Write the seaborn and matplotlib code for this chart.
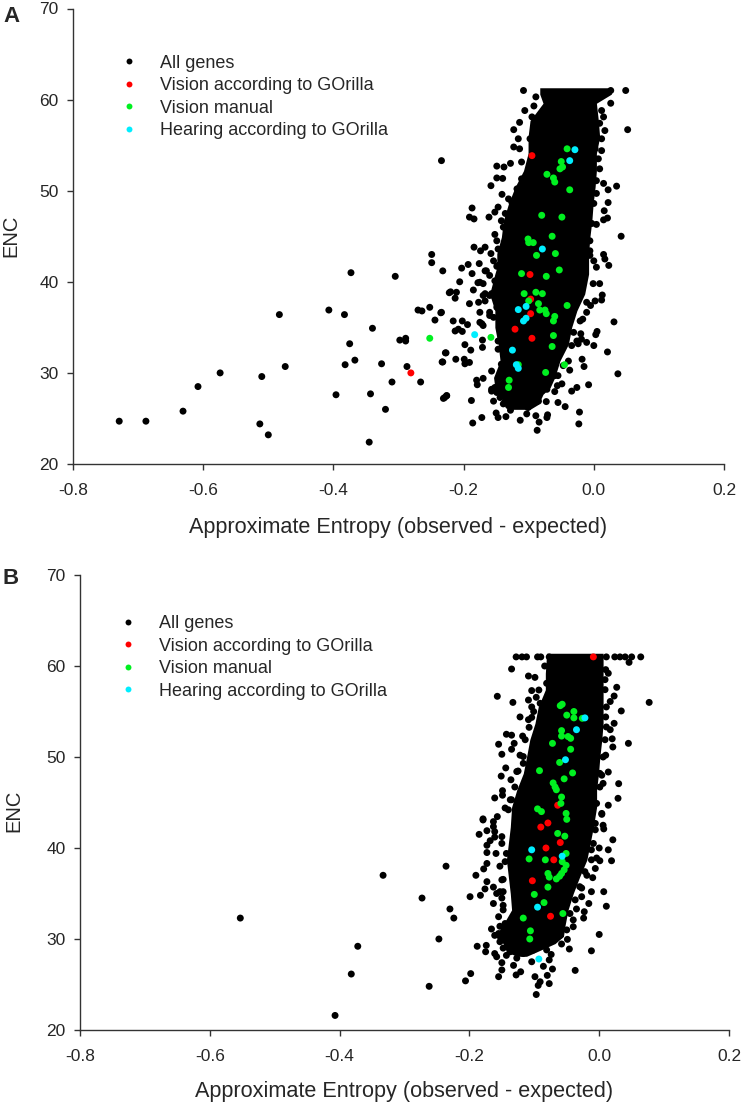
import pandas as pd
import matplotlib
matplotlib.use('Agg')
import matplotlib.pyplot as plt
import seaborn as sns

# Values, as (approximate entropy, ENC)
a_all_genes = [
    (-0.729, 24.7), (-0.688, 24.7), (-0.631, 25.8), (-0.608, 28.5), (-0.574, 30.0), (-0.510, 29.6),
    (-0.474, 30.7), (-0.483, 36.4), (-0.513, 24.4), (-0.500, 23.2), (-0.407, 36.9), (-0.383, 36.4),
    (-0.340, 34.9), (-0.375, 33.2), (-0.367, 31.4), (-0.382, 30.9), (-0.326, 31.0), (-0.396, 27.6),
    (-0.343, 27.7), (-0.310, 29.0), (-0.320, 26.0), (-0.345, 22.4), (-0.298, 33.6), (-0.289, 33.8),
    (-0.289, 33.5), (-0.287, 30.7), (-0.266, 29.0), (-0.270, 36.9), (-0.264, 36.8), (-0.252, 37.2),
    (-0.235, 36.6), (-0.244, 35.8), (-0.227, 32.2), (-0.233, 31.2), (-0.231, 27.2), (-0.226, 27.5),
    (-0.222, 38.8), (-0.234, 53.3), (-0.373, 41.0), (-0.305, 40.6), (-0.249, 43.0), (-0.249, 42.1),
    (-0.108, 61.0), (-0.089, 60.3), (-0.092, 59.3), (-0.106, 58.8), (-0.114, 57.5), (-0.123, 56.7),
    (-0.116, 55.7), (-0.123, 54.8), (-0.114, 54.6), (-0.111, 53.15), (-0.149, 52.7), (-0.138, 52.6),
    (-0.128, 53.0), (-0.149, 51.4), (-0.140, 51.35), (-0.158, 50.55), (-0.141, 49.6), (-0.187, 48.1),
    (-0.191, 47.1), (-0.184, 46.9), (-0.161, 47.1), (-0.152, 47.65), (-0.152, 45.2), (-0.184, 43.8),
    (-0.174, 43.4), (-0.167, 43.8), (-0.158, 43.1), (-0.176, 42.0), (-0.193, 41.9), (-0.203, 41.5),
    (0.026, 61.0), (0.049, 61.0), (0.026, 59.6), (0.052, 56.7), (0.015, 58.1), (0.017, 56.6),
    (0.012, 54.4), (0.009, 52.4), (0.035, 50.5), (0.022, 50.1), (0.015, 50.8), (0.022, 48.7),
    (0.016, 47.8), (0.021, 47.0), (0.015, 46.8), (0.004, 46.3), (0.042, 45.0), (0.015, 43.0),
    (0.017, 42.5), (0.023, 41.8), (0.000, 42.3), (-0.006, 43.4),
    (-0.232, 41.2), (-0.187, 40.9), (-0.206, 40.0), (-0.220, 38.9), (-0.211, 38.85), (-0.213, 38.2),
    (-0.185, 39.1), (-0.191, 37.6), (-0.234, 36.65), (-0.216, 35.7), (-0.202, 35.7), (-0.194, 35.3),
    (-0.213, 34.6), (-0.208, 34.8), (-0.202, 34.55), (-0.228, 32.2), (-0.232, 31.2), (-0.212, 31.5),
    (-0.199, 31.5), (-0.198, 31.0), (-0.191, 31.15), (-0.198, 33.1), (-0.189, 32.5), (-0.171, 32.8),
    (-0.171, 33.6), (-0.178, 39.9), (-0.180, 29.2), (-0.179, 28.7), (-0.170, 29.4), (-0.157, 30.2),
    (-0.229, 27.3), (-0.226, 27.5), (-0.188, 26.97), (-0.154, 26.9), (-0.150, 25.6), (-0.147, 25.1),
    (-0.172, 25.1), (-0.186, 24.5), (-0.135, 25.2), (-0.113, 24.8), (-0.087, 23.7), (-0.084, 24.6),
    (-0.071, 25.4), (-0.072, 25.1), (-0.089, 25.3), (-0.128, 25.9), (-0.157, 28.0), (-0.142, 27.7),
    (-0.175, 36.65), (-0.172, 35.4), (-0.160, 36.3), (-0.170, 38.5), (-0.157, 38.7), (-0.165, 41.2),
    (-0.149, 41.7), (-0.160, 40.7), (-0.177, 37.75), (-0.167, 37.9), (-0.149, 37.2), (-0.170, 39.8),
    (-0.147, 32.6), (-0.142, 30.96), (-0.152, 28.4), (-0.139, 26.6), (-0.116, 26.6), (-0.101, 26.2),
    (-0.085, 26.9), (-0.103, 25.5),
    (0.009, 39.8), (0.013, 38.55), (0.012, 38.0), (0.002, 37.9), (-0.005, 37.4), (-0.011, 36.65),
    (-0.017, 35.9), (0.031, 35.6), (0.005, 34.55), (0.003, 34.2), (-0.020, 34.3), (-0.011, 33.35),
    (0.000, 33.0), (-0.024, 33.2), (0.021, 32.3), (-0.018, 31.5), (-0.015, 30.7), (0.037, 29.9),
    (-0.037, 30.3), (-0.008, 28.7), (-0.026, 28.4), (-0.034, 28.0), (-0.049, 28.8), (-0.056, 28.6),
    (-0.060, 27.95), (-0.055, 26.75), (-0.044, 26.3), (-0.073, 26.85), (-0.022, 25.7), (-0.023, 24.4),
    (-0.080, 28.0),
]
# Black dots hugging the solid middle of panel A
a_fringe = [
    (-0.167, 41.2), (-0.152, 40.1), (-0.175, 39.95), (-0.167, 38.7), (-0.160, 38.5), (-0.152, 38.3),
    (-0.160, 36.65), (-0.154, 36.1), (-0.175, 35.55), (-0.170, 35.2), (-0.147, 33.5), (-0.157, 28.2),
    (-0.149, 27.85), (-0.144, 27.3), (-0.136, 26.9), (-0.131, 26.4), (-0.113, 26.75), (-0.098, 26.6),
    (-0.072, 28.2), (-0.060, 29.7), (-0.055, 29.7), (-0.047, 30.8), (-0.039, 31.3), (-0.034, 33.0),
    (-0.026, 33.5), (-0.019, 33.7), (-0.031, 34.45), (-0.021, 35.7), (-0.011, 37.75), (-0.001, 39.8),
    (0.004, 41.6), (-0.095, 58.1), (-0.090, 57.4), (-0.085, 56.6), (-0.098, 55.7), (-0.111, 51.3),
    (-0.118, 50.2), (-0.131, 49.1), (-0.126, 48.75), (-0.147, 48.2), (-0.136, 47.5), (-0.142, 46.7),
    (-0.139, 46.0), (-0.149, 44.5), (-0.147, 43.6), (-0.154, 42.3), (-0.147, 41.8), (0.009, 60.3),
    (0.012, 58.8), (0.009, 57.4), (0.012, 55.7), (0.002, 54.6), (0.007, 53.5), (0.004, 51.1),
    (0.004, 49.7), (0.000, 48.6), (-0.003, 46.4), (-0.006, 44.5), (-0.006, 42.9),
]
a_vision_gorilla = [
    (-0.095, 53.85), (-0.098, 40.8), (-0.097, 38.1), (-0.097, 36.5), (-0.121, 34.8), (-0.095, 33.8),
    (-0.281, 30.0),
]
a_vision_manual = [
    (-0.041, 54.6), (-0.050, 53.2), (-0.048, 52.6), (-0.052, 52.4), (-0.072, 51.8), (-0.062, 51.4),
    (-0.060, 50.95), (-0.037, 50.1), (-0.080, 47.3), (-0.049, 47.1), (-0.064, 45.0), (-0.101, 44.7),
    (-0.100, 44.3), (-0.093, 44.3), (-0.088, 42.9), (-0.059, 43.1), (-0.053, 41.3), (-0.111, 40.9),
    (-0.073, 40.6), (-0.107, 38.7), (-0.089, 38.85), (-0.079, 38.7), (-0.100, 37.9), (-0.085, 37.6),
    (-0.041, 37.4), (-0.083, 36.9), (-0.075, 36.9), (-0.073, 36.5), (-0.060, 36.2), (-0.062, 35.7),
    (-0.062, 34.1), (-0.064, 32.9), (-0.158, 33.9), (-0.045, 30.9), (-0.074, 30.05), (-0.130, 29.2),
    (-0.131, 28.4), (-0.116, 30.9), (-0.252, 33.8),
]
a_hearing_gorilla = [
    (-0.029, 54.5), (-0.037, 53.3), (-0.079, 43.6), (-0.183, 34.2), (-0.116, 36.95), (-0.104, 37.3),
    (-0.108, 35.7), (-0.104, 36.0), (-0.125, 32.5), (-0.119, 30.9), (-0.116, 30.5),
]

b_all_genes = [
    (-0.553, 32.3), (-0.372, 29.2), (-0.382, 26.15), (-0.333, 37.0), (-0.262, 24.8), (-0.407, 21.6),
    (-0.273, 34.5), (-0.236, 38.0), (-0.230, 33.3), (-0.224, 32.3), (-0.247, 30.0),
    (-0.128, 61.0), (-0.119, 61.0), (-0.112, 61.0), (-0.095, 61.0), (-0.090, 61.0), (-0.077, 61.0),
    (0.011, 61.0), (0.024, 61.0), (0.032, 61.0), (0.040, 61.0), (0.050, 61.0), (0.064, 61.0),
    (0.046, 60.4), (-0.135, 59.67), (-0.109, 58.9), (-0.099, 58.75), (-0.104, 57.3), (-0.093, 57.36),
    (-0.157, 56.67), (-0.133, 56.0), (-0.109, 56.26), (-0.097, 56.56), (-0.104, 55.5), (-0.122, 54.4),
    (-0.104, 54.35), (-0.108, 53.26), (-0.118, 52.3), (-0.143, 52.5), (-0.135, 52.4), (-0.155, 51.4),
    (-0.131, 51.5), (-0.135, 50.85), (-0.150, 50.3), (-0.117, 50.05), (-0.144, 48.8), (-0.125, 48.46),
    (-0.151, 47.9), (-0.136, 47.5), (-0.149, 46.3), (-0.149, 45.8), (-0.161, 45.5), (-0.135, 45.3),
    (-0.145, 44.4), (-0.157, 43.45), (-0.179, 43.2),
    (0.010, 59.6), (0.014, 59.2), (0.009, 58.5), (0.027, 57.66), (0.023, 56.7), (0.017, 56.1),
    (0.077, 56.0), (0.034, 55.06), (0.010, 54.4), (0.023, 53.7), (0.017, 53.0), (0.020, 52.0),
    (0.045, 51.5), (0.021, 51.1), (0.010, 50.2), (0.014, 48.35), (0.004, 48.0), (0.030, 47.07),
    (0.029, 45.46), (0.014, 44.7), (0.004, 43.8), (0.006, 47.1),
    (-0.179, 43.08), (-0.163, 42.9), (-0.163, 42.35), (-0.161, 41.8), (-0.185, 41.5), (-0.173, 41.9),
    (-0.150, 41.25), (-0.161, 41.2), (-0.168, 40.8), (-0.173, 40.3), (-0.173, 39.5), (-0.159, 39.4),
    (-0.143, 39.4), (-0.173, 38.3), (-0.178, 37.7), (-0.153, 38.0), (-0.190, 37.0), (-0.173, 36.3),
    (-0.148, 36.55), (-0.199, 34.65), (-0.183, 34.8), (-0.176, 35.5), (-0.163, 35.7), (-0.153, 35.2),
    (-0.163, 33.9), (-0.148, 33.7), (-0.148, 33.2), (-0.155, 32.45), (-0.166, 31.1), (-0.155, 30.6),
    (-0.188, 29.2), (-0.174, 29.3), (-0.175, 28.6), (-0.161, 28.4), (-0.158, 28.05), (-0.143, 28.2),
    (-0.150, 27.4), (-0.150, 26.6), (-0.155, 25.86), (-0.132, 27.1), (-0.128, 26.05), (-0.121, 26.4),
    (-0.198, 26.2), (-0.206, 25.4), (-0.137, 29.15), (-0.104, 27.5), (-0.099, 25.86), (-0.091, 25.3),
    (-0.094, 24.9), (-0.097, 23.9), (-0.077, 25.1), (-0.080, 26.0), (-0.072, 26.7), (-0.086, 27.0),
    (-0.077, 27.7), (-0.074, 28.3), (-0.091, 29.2), (-0.080, 29.6),
    (-0.037, 26.55), (-0.012, 28.7), (-0.046, 28.9), (-0.058, 29.45), (-0.049, 29.96), (-0.040, 31.35),
    (0.000, 30.5), (-0.024, 32.3), (-0.023, 33.0), (-0.035, 33.3), (0.011, 33.6), (-0.016, 33.9),
    (0.007, 35.2), (-0.012, 35.2), (-0.027, 34.65), (-0.027, 35.6), (-0.010, 36.74), (-0.006, 37.75),
    (-0.022, 37.4), (0.001, 38.6), (0.019, 38.6), (-0.004, 38.9), (0.014, 39.8), (0.000, 40.0),
    (0.021, 40.9), (-0.012, 39.8), (0.006, 42.5), (0.007, 42.1), (-0.006, 42.0), (0.004, 43.7),
]
# Black dots hugging the solid middle of panel B
b_fringe = [
    (-0.150, 40.5), (-0.145, 38.5), (-0.150, 36.5), (-0.148, 35.2), (-0.158, 35.0), (-0.150, 34.5),
    (-0.145, 31.7), (-0.153, 31.4), (-0.161, 30.4), (-0.153, 29.7), (-0.148, 29.0), (-0.137, 28.6),
    (-0.127, 28.8), (-0.117, 28.4), (-0.127, 27.9), (-0.101, 28.8), (-0.081, 28.8), (-0.060, 30.4),
    (-0.050, 31.0), (-0.040, 32.1), (-0.045, 32.8), (-0.037, 34.3), (-0.030, 35.75), (-0.019, 37.0),
    (-0.012, 38.7), (-0.009, 40.5), (-0.006, 42.7), (-0.084, 60.0), (-0.081, 58.1), (-0.091, 55.9),
    (-0.101, 55.0), (-0.109, 54.1), (-0.114, 51.9), (-0.122, 50.2), (-0.117, 49.3), (-0.127, 48.4),
    (-0.130, 46.7), (-0.137, 45.3), (-0.140, 44.2), (0.009, 57.4), (0.011, 55.5), (0.011, 53.3),
    (0.009, 51.9), (0.006, 50.0), (0.001, 48.2), (0.001, 46.7), (-0.004, 44.9),
]
b_vision_gorilla = [
    (-0.009, 61.0), (-0.064, 44.7), (-0.079, 42.75), (-0.090, 42.3), (-0.060, 40.6), (-0.082, 40.0),
    (-0.070, 38.7), (-0.103, 36.4), (-0.075, 32.5),
]
b_vision_manual = [
    (-0.060, 55.64), (-0.057, 55.8), (-0.039, 55.0), (-0.050, 54.6), (-0.039, 54.3), (-0.026, 54.25),
    (-0.058, 52.9), (-0.058, 52.3), (-0.048, 52.25), (-0.044, 52.05), (-0.072, 51.5), (-0.044, 50.85),
    (-0.061, 49.4), (-0.092, 48.5), (-0.041, 48.25), (-0.054, 47.6), (-0.071, 47.15), (-0.068, 46.7),
    (-0.066, 46.4), (-0.058, 45.6), (-0.059, 44.9), (-0.095, 44.3), (-0.089, 44.0), (-0.051, 43.8),
    (-0.050, 43.15), (-0.064, 41.6), (-0.053, 41.3), (-0.051, 39.4), (-0.108, 38.8), (-0.083, 38.7),
    (-0.057, 38.5), (-0.051, 38.1), (-0.054, 37.6), (-0.058, 37.2), (-0.079, 37.2), (-0.077, 36.8),
    (-0.061, 36.9), (-0.066, 36.6), (-0.079, 35.7), (-0.100, 34.9), (-0.085, 34.0), (-0.117, 32.3),
    (-0.056, 32.8), (-0.106, 30.9), (-0.107, 30.0),
]
b_hearing_gorilla = [
    (-0.022, 54.3), (-0.035, 53.0), (-0.052, 49.7), (-0.104, 39.8), (-0.057, 39.1), (-0.095, 33.5),
    (-0.093, 27.8),
]

# The middle of each cloud is solid black and single points cannot be read there,
# so it is an outline: ENC, left edge, right edge
a_core_enc = [61.3, 60.6, 59.6, 57.7, 55.9, 54.1, 52.2, 50.4, 48.6, 46.7, 44.9, 43.1, 41.6, 40.86, 38.66,
              36.83, 35.0, 33.16, 31.33, 29.5, 28.4, 27.66, 26.56, 26.0]
a_core_left = [-0.083, -0.083, -0.078, -0.098, -0.101, -0.101, -0.108, -0.121, -0.131, -0.139, -0.142,
               -0.149, -0.149, -0.152, -0.160, -0.152, -0.152, -0.147, -0.144, -0.154, -0.152, -0.144,
               -0.137, -0.126]
a_core_right = [0.027, 0.027, 0.004, 0.007, 0.009, 0.004, 0.004, 0.002, -0.001, -0.003, -0.006, -0.008,
                -0.008, -0.008, -0.014, -0.026, -0.034, -0.039, -0.052, -0.060, -0.067, -0.078, -0.085,
                -0.098]
b_core_enc = [61.4, 59.2, 57.4, 55.5, 53.7, 51.9, 50.0, 48.2, 46.4, 44.5, 42.3, 40.5, 38.7, 36.85, 35.0,
              33.2, 31.35, 30.3, 29.5, 28.6, 28.1]
b_core_left = [-0.081, -0.083, -0.083, -0.094, -0.099, -0.107, -0.112, -0.117, -0.127, -0.135, -0.137,
               -0.140, -0.143, -0.140, -0.137, -0.135, -0.150, -0.161, -0.148, -0.143, -0.127]
b_core_right = [0.006, 0.006, 0.006, 0.006, 0.006, 0.004, 0.001, -0.001, -0.004, -0.004, -0.009, -0.014,
                -0.019, -0.030, -0.040, -0.048, -0.053, -0.055, -0.068, -0.096, -0.112]

group_names = ['All genes', 'Vision according to GOrilla', 'Vision manual', 'Hearing according to GOrilla']
group_colors = ['black', '#FF0000', '#00F020', '#00EEFF']
x_ticks = [-0.8, -0.6, -0.4, -0.2, 0.0, 0.2]
y_ticks = [20, 30, 40, 50, 60, 70]

sns.set_style('ticks')
plt.rcParams['font.family'] = ['Liberation Sans', 'DejaVu Sans']

W, H = 742, 1107
fig = plt.figure(figsize=(W / 100, H / 100), dpi=100)


def make_panel(box, groups, core, legend_anchor, letter, letter_xy, ylabel_xy, xlabel_y):
    left, right, top, bottom = box
    ax = fig.add_axes([left / W, 1 - bottom / H, (right - left) / W, (bottom - top) / H])
    rows = []
    for name, points in zip(group_names, groups):
        for x, y in points:
            rows.append({'entropy': x, 'enc': y, 'group': name})
    df = pd.DataFrame(rows)
    ax.fill_betweenx(core[0], core[1], core[2], color='black', linewidth=0, zorder=1)
    sns.scatterplot(data=df, x='entropy', y='enc', hue='group', hue_order=group_names,
                    palette=group_colors, s=25, linewidth=0, ax=ax, zorder=2)
    ax.set_xlim(-0.8, 0.2)
    ax.set_ylim(20, 70)
    ax.set_xticks(x_ticks)
    ax.set_xticklabels(['-0.8', '-0.6', '-0.4', '-0.2', '0.0', '0.2'])
    ax.set_yticks(y_ticks)
    ax.tick_params(axis='x', labelsize=12.5, length=4.5, width=1, color='#333333', pad=9.5)
    ax.tick_params(axis='y', labelsize=12.5, length=4.5, width=1, color='#333333', pad=6)
    sns.despine(ax=ax)
    for side in ['left', 'bottom']:
        ax.spines[side].set_linewidth(1)
        ax.spines[side].set_color('#333333')
    ax.set_xlabel('')
    ax.set_ylabel('')
    ax.legend(frameon=False, loc='upper left', bbox_to_anchor=(legend_anchor[0] / W, 1 - legend_anchor[1] / H),
              bbox_transform=fig.transFigure, fontsize=13, labelspacing=0.31, handletextpad=0.7,
              borderpad=0, borderaxespad=0, markerscale=0.85)
    fig.text(letter_xy[0] / W, 1 - letter_xy[1] / H, letter, fontsize=16, fontweight='bold', va='center')
    fig.text(ylabel_xy[0] / W, 1 - ylabel_xy[1] / H, 'ENC', fontsize=14.5, rotation=90, ha='center', va='center')
    fig.text((left + right) / 2 / W, 1 - xlabel_y / H, 'Approximate Entropy (observed - expected)',
             fontsize=15.6, ha='center', va='center')
    return ax


make_panel((73, 724, 8.5, 464), [a_all_genes + a_fringe, a_vision_gorilla, a_vision_manual, a_hearing_gorilla],
           (a_core_enc, a_core_left, a_core_right), (111, 54.5), 'A', (3, 16), (11, 236), 528)
make_panel((80, 729, 575, 1030), [b_all_genes + b_fringe, b_vision_gorilla, b_vision_manual, b_hearing_gorilla],
           (b_core_enc, b_core_left, b_core_right), (110, 615), 'B', (3, 578), (14, 811), 1092)

fig.savefig('out.png', dpi=100)
